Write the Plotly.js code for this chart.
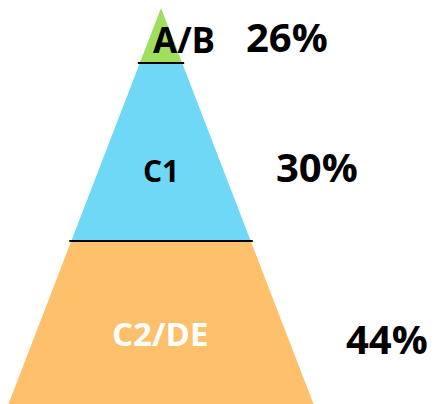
<!DOCTYPE html>
<html>
<head>
<meta charset="utf-8">
<script src="https://cdn.plot.ly/plotly-3.0.1.min.js"></script>
<style>html,body{margin:0;padding:0;background:#fff;}#chart{width:438px;height:404px;}</style>
</head>
<body>
<div id="chart"></div>
<script>
// Data
const categories = ["A/B", "C1", "C2/DE"];
const shares = [26, 30, 44];
const shareLabels = shares.map(v => v + "%");

// Layout / style (pyramid geometry in pixel-like axis units)
const colors = ["#9ee05e", "#6fd8f6", "#fec06b"];
const labelColors = ["#000000", "#000000", "#ffffff"];
const apex = {x: 161, y: 8};
const baseY = 404;
const halfBase = 152.5;
const bandEdges = [63, 241]; // boundaries between bands
const catPos = [{x: 184, y: 39, size: 35}, {x: 161, y: 170, size: 30}, {x: 160, y: 333, size: 33}];
const pctPos = [{x: 287, y: 36}, {x: 317, y: 166}, {x: 387, y: 338}];

function halfWidthAt(y) { return halfBase * (y - apex.y) / (baseY - apex.y); }

const tops = [apex.y, bandEdges[0], bandEdges[1]];
const bottoms = [bandEdges[0], bandEdges[1], baseY + 2];

const traces = categories.map((c, i) => {
  const t = tops[i], b = bottoms[i];
  const wt = halfWidthAt(t), wb = halfWidthAt(b);
  return {
    type: "scatter", mode: "lines", fill: "toself",
    x: [apex.x - wt, apex.x + wt, apex.x + wb, apex.x - wb, apex.x - wt],
    y: [t, t, b, b, t],
    fillcolor: colors[i], line: {width: 0, color: colors[i]},
    hoverinfo: "text", text: c + " " + shareLabels[i], name: c
  };
});

const shapes = bandEdges.map(y => {
  const w = halfWidthAt(y) + 2;
  return {type: "line", xref: "x", yref: "y", x0: apex.x - w, x1: apex.x + w, y0: y, y1: y,
          line: {color: "#000", width: 2}};
});

const annotations = [];
categories.forEach((c, i) => {
  annotations.push({x: catPos[i].x, y: catPos[i].y, xref: "x", yref: "y", text: "<b>" + c + "</b>",
    showarrow: false, font: {family: "Open Sans", size: catPos[i].size, color: labelColors[i]}});
  annotations.push({x: pctPos[i].x, y: pctPos[i].y, xref: "x", yref: "y", text: "<b>" + shareLabels[i] + "</b>",
    showarrow: false, font: {family: "Open Sans", size: 40, color: "#000"}});
});

const layout = {
  width: 438, height: 404,
  margin: {l: 0, r: 0, t: 0, b: 0},
  paper_bgcolor: "#fff", plot_bgcolor: "#fff",
  showlegend: false,
  xaxis: {range: [0, 438], visible: false, fixedrange: true},
  yaxis: {range: [404, 0], visible: false, fixedrange: true},
  shapes: shapes,
  annotations: annotations
};

Plotly.newPlot("chart", traces, layout, {displayModeBar: false, staticPlot: true});
</script>
</body>
</html>
